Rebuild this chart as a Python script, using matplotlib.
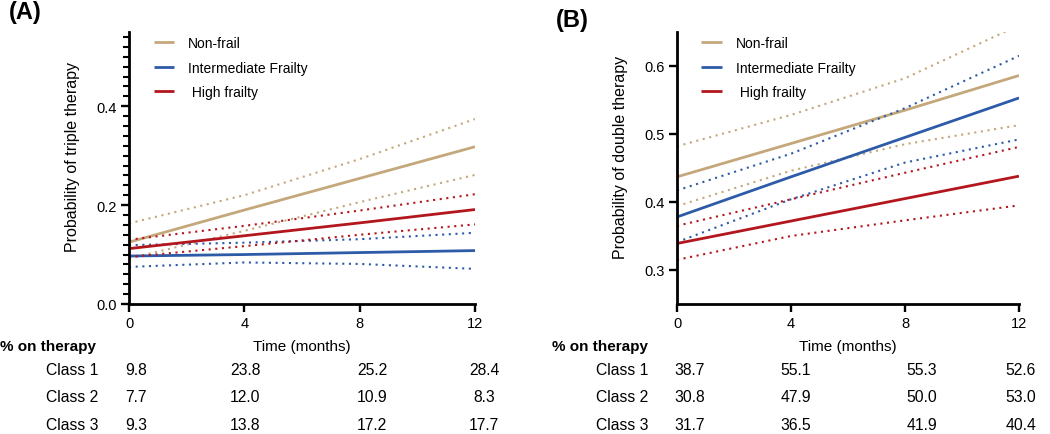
import matplotlib
matplotlib.use("Agg")
import matplotlib.pyplot as plt
from matplotlib.ticker import MultipleLocator

plt.rcParams['font.family'] = ['Liberation Sans', 'DejaVu Sans']

# data
months = [0, 4, 8, 12]
groups = ["Non-frail", "Intermediate Frailty", " High frailty"]
colors = ["#C4A77B", "#2D5BA8", "#B3161C"]

triple_mean = [[0.125, 0.190, 0.254, 0.318],
               [0.097, 0.100, 0.104, 0.108],
               [0.112, 0.138, 0.164, 0.191]]
triple_upper = [[0.163, 0.220, 0.293, 0.374],
                [0.119, 0.124, 0.131, 0.144],
                [0.130, 0.158, 0.189, 0.222]]
triple_lower = [[0.092, 0.148, 0.206, 0.261],
                [0.075, 0.084, 0.081, 0.071],
                [0.095, 0.117, 0.140, 0.161]]

double_mean = [[0.437, 0.486, 0.535, 0.586],
               [0.378, 0.437, 0.495, 0.553],
               [0.339, 0.372, 0.405, 0.438]]
double_upper = [[0.482, 0.528, 0.582, 0.660],
                [0.417, 0.471, 0.538, 0.615],
                [0.365, 0.404, 0.443, 0.481]]
double_lower = [[0.394, 0.446, 0.485, 0.513],
                [0.341, 0.404, 0.458, 0.492],
                [0.315, 0.350, 0.373, 0.395]]

class_labels = ["Class 1", "Class 2", "Class 3"]
triple_pct = [["9.8", "23.8", "25.2", "28.4"],
              ["7.7", "12.0", "10.9", "8.3"],
              ["9.3", "13.8", "17.2", "17.7"]]
double_pct = [["38.7", "55.1", "55.3", "52.6"],
              ["30.8", "47.9", "50.0", "53.0"],
              ["31.7", "36.5", "41.9", "40.4"]]

W, H = 1050, 435


def fx(px):
    return px / W


def fy(py):
    return 1 - py / H


def panel(ax, mean, upper, lower, ylabel, ylim, yticks, minor):
    for i in range(3):
        ax.plot(months, mean[i], color=colors[i], lw=2.0, label=groups[i],
                solid_capstyle='butt')
        ax.plot(months, upper[i], color=colors[i], lw=1.5, ls=(0, (1, 2.2)))
        ax.plot(months, lower[i], color=colors[i], lw=1.5, ls=(0, (1, 2.2)))
    ax.set_xlim(0, 12)
    ax.set_ylim(*ylim)
    ax.set_xticks(months)
    ax.set_yticks(yticks)
    ax.set_yticklabels([f"{t:.1f}" for t in yticks])
    if minor:
        ax.yaxis.set_minor_locator(MultipleLocator(minor))
    for s in ["top", "right"]:
        ax.spines[s].set_visible(False)
    for s in ["left", "bottom"]:
        ax.spines[s].set_linewidth(2.0)
    ax.tick_params(which='major', length=6, width=1.7, labelsize=10.5, pad=3)
    ax.tick_params(which='minor', length=4, width=1.5)
    ax.set_ylabel(ylabel, fontsize=11.5)
    ax.yaxis.set_label_coords(-0.142, 0.544)
    ax.set_xlabel("Time (months)", fontsize=11)
    ax.xaxis.set_label_coords(0.5, -0.154)
    ax.xaxis.label.set_va('center')
    ax.legend(loc='upper left', bbox_to_anchor=(0.035, 1.03), frameon=False,
              fontsize=10, handlelength=1.5, handletextpad=1.0,
              labelspacing=0.75)


fig = plt.figure(figsize=(10.5, 4.35), dpi=100)
axA = fig.add_axes([fx(129), fy(305), fx(346), 272 / H])
axB = fig.add_axes([fx(677), fy(305), fx(342), 272 / H])

panel(axA, triple_mean, triple_upper, triple_lower,
      "Probability of triple therapy", (0, 0.55), [0.0, 0.2, 0.4], 0.02)
panel(axB, double_mean, double_upper, double_lower,
      "Probability of double therapy", (0.25, 0.65), [0.3, 0.4, 0.5, 0.6], None)

fig.text(fx(25), fy(13), "(A)", fontsize=17, fontweight='bold',
         ha='center', va='center')
fig.text(fx(572), fy(20), "(B)", fontsize=17, fontweight='bold',
         ha='center', va='center')

# tables below the panels
row_y = [371, 398, 426]
tables = [
    (triple_pct, 0, 98, [136, 245, 372, 484]),
    (double_pct, 552, 648, [690, 796, 922, 1021]),
]
for pct, head_x, class_x, col_x in tables:
    fig.text(fx(head_x), fy(347), "% on therapy", fontsize=11,
             fontweight='bold', ha='left', va='center')
    for r in range(3):
        fig.text(fx(class_x), fy(row_y[r]), class_labels[r], fontsize=11.3,
                 ha='right', va='center')
        for c in range(4):
            fig.text(fx(col_x[c]), fy(row_y[r]), pct[r][c], fontsize=11.3,
                     ha='center', va='center')

fig.savefig("out.png", dpi=100)
